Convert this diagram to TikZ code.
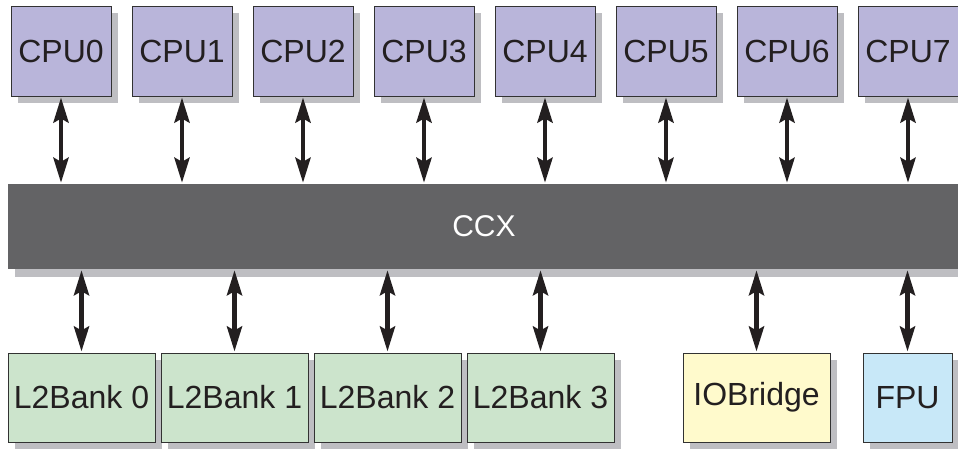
\documentclass[tikz,border=0pt]{standalone}
\usepackage{fontspec}
\setmainfont{Liberation Sans}
\usetikzlibrary{arrows.meta,shadows}
\definecolor{cpufill}{RGB}{185,181,218}
\definecolor{l2fill}{RGB}{204,228,204}
\definecolor{iofill}{RGB}{255,250,204}
\definecolor{fpufill}{RGB}{200,232,248}
\definecolor{ccxfill}{RGB}{99,99,101}
\definecolor{shadowgray}{RGB}{190,190,194}
\definecolor{edgecol}{RGB}{50,50,50}
\definecolor{inkcol}{RGB}{35,31,32}
\tikzset{
  box/.style={draw=edgecol, line width=1pt, inner sep=0pt, text=inkcol,
    font=\fontsize{32}{38}\selectfont,
    general shadow={fill=shadowgray, shadow xshift=7pt, shadow yshift=-7pt}},
  cpubox/.style={box, fill=cpufill, minimum width=100pt, minimum height=90pt},
  l2box/.style={box, fill=l2fill, minimum width=147pt, minimum height=89pt},
  iobox/.style={box, fill=iofill, minimum width=147pt, minimum height=89pt},
  fpubox/.style={box, fill=fpufill, minimum width=89pt, minimum height=89pt},
  ccxbar/.style={fill=ccxfill, inner sep=0pt, text=white,
    font=\fontsize{30}{36}\selectfont, minimum width=952pt, minimum height=85pt,
    general shadow={fill=shadowgray, shadow xshift=7pt, shadow yshift=-8pt}},
  link/.style={draw=inkcol, line width=4.5pt,
    {Stealth[length=25pt,width=15pt,inset=4pt]}-{Stealth[length=25pt,width=15pt,inset=4pt]},
    shorten <=1pt, shorten >=1pt}
}
\begin{document}
\begin{tikzpicture}[x=1pt,y=-1pt]
\clip (0,0) rectangle (958,448);
\fill[white] (0,0) rectangle (958,448);
\foreach \i in {0,...,7} {
  \node[cpubox] (cpu\i) at ({61+121*\i},51) {CPU\i};
}
\node[ccxbar] (ccx) at (484,226.5) {CCX};
\foreach \i in {0,...,3} {
  \node[l2box] (l2\i) at ({81.5+153*\i},397.5) {L2Bank \i};
}
\node[iobox] (io) at (756.5,397.5) {IOBridge};
\node[fpubox] (fpu) at (907.5,397.5) {FPU};
\foreach \i in {0,...,7} {
  \draw[link] (cpu\i.south) -- (cpu\i.south |- ccx.north);
}
\foreach \n in {l20,l21,l22,l23,io,fpu} {
  \draw[link] (\n.north |- ccx.south) -- (\n.north);
}
\end{tikzpicture}
\end{document}
